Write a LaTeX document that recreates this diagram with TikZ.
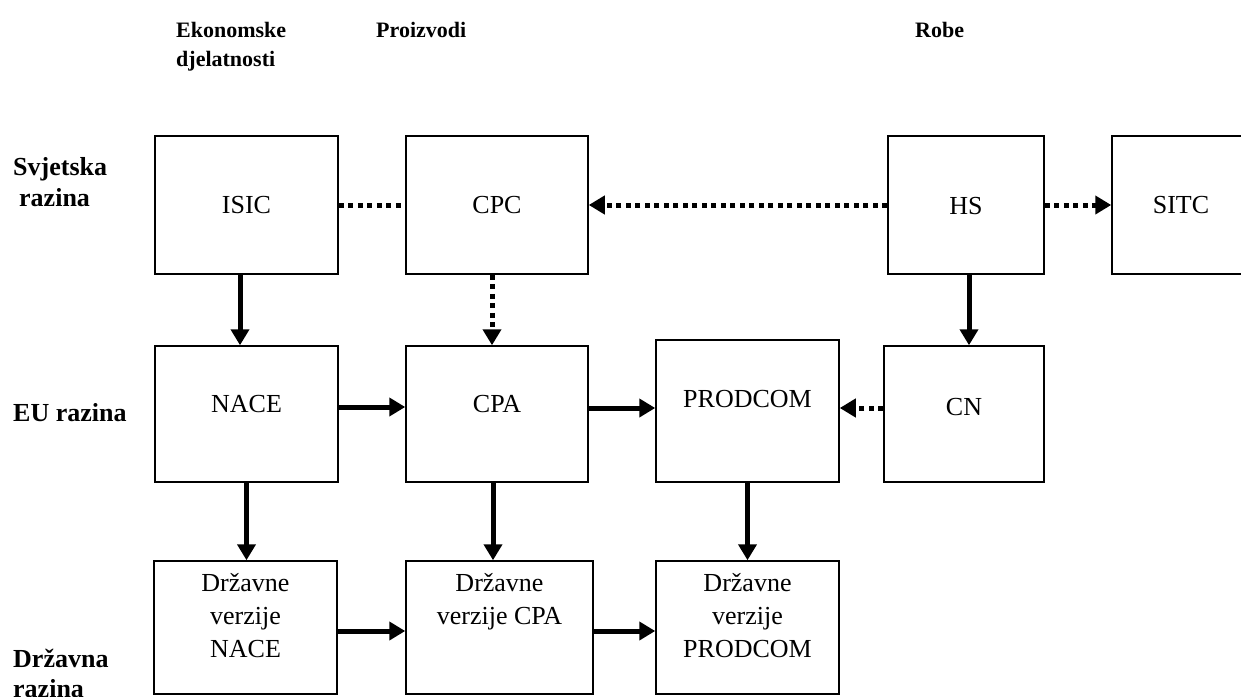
\documentclass[tikz,border=0pt]{standalone}
\usepackage{fontspec}
\setmainfont{Liberation Serif}
\usetikzlibrary{arrows.meta,calc}
\tikzset{
  box/.style={draw, line width=1.5pt, inner sep=0pt},
  boxtext/.style={inner sep=0pt, font=\fontsize{26}{33}\selectfont, align=center},
  head/.style={inner sep=0pt, font=\fontsize{22}{29}\selectfont\bfseries, align=left},
  side/.style={inner sep=0pt, font=\fontsize{26}{31}\selectfont\bfseries, align=left},
  solidarr/.style={line width=5pt, -{Triangle[length=16pt,width=18pt]}},
  dotarr/.style={line width=5pt, dash pattern=on 5pt off 4.5pt, -{Triangle[length=16pt,width=18pt]}},
  dotline/.style={line width=5pt, dash pattern=on 5pt off 4.5pt}
}
\begin{document}
\begin{tikzpicture}[x=1pt,y=-1pt]
\clip (0,0) rectangle (1241,696);
\fill[white] (0,0) rectangle (1241,696);
% headers
\node[head, anchor=north west] (h1) at (176,22) {Ekonomske\\djelatnosti};
\node[head, anchor=base west] (h2) at (376,37) {Proizvodi};
\node[head, anchor=base west] (h3) at (915,37) {Robe};
% side labels
\node[side, anchor=north west] (s1) at (13,157) {Svjetska\\\hspace*{6pt}razina};
\node[side, anchor=base west] (s2) at (13,421.5) {EU razina};
\node[side, anchor=north west, font=\fontsize{26}{30}\selectfont\bfseries] (s3) at (13,649) {Državna\\razina};
% row 1
\node[box, minimum width=183pt, minimum height=138pt] (isic) at (246.5,205) {};
\node[box, minimum width=182pt, minimum height=138pt] (cpc) at (497,205) {};
\node[box, minimum width=156pt, minimum height=138pt] (hs) at (966,205) {};
\node[box, minimum width=138pt, minimum height=138pt] (sitc) at (1181,205) {};
\node[boxtext, anchor=base] (isict) at (246.5,213) {ISIC};
\node[boxtext, anchor=base] (cpct) at (497,213) {CPC};
\node[boxtext, anchor=base] (hst) at (966,214) {HS};
\node[boxtext, anchor=base] (sitct) at (1181,213) {SITC};
% row 2
\node[box, minimum width=183pt, minimum height=136pt] (nace) at (246.5,414) {};
\node[box, minimum width=182pt, minimum height=136pt] (cpa) at (497,414) {};
\node[box, minimum width=183pt, minimum height=142pt] (prodcom) at (747.5,411) {};
\node[box, minimum width=160pt, minimum height=136pt] (cn) at (964,414) {};
\node[boxtext, anchor=base] (nacet) at (246.5,412) {NACE};
\node[boxtext, anchor=base] (cpat) at (497,412) {CPA};
\node[boxtext, anchor=base] (prodcomt) at (747.5,407) {PRODCOM};
\node[boxtext, anchor=base] (cnt) at (964,415) {CN};
% row 3
\node[box, minimum width=183pt, minimum height=133pt] (dnace) at (245.5,627.5) {};
\node[box, minimum width=187pt, minimum height=133pt] (dcpa) at (499.5,627.5) {};
\node[box, minimum width=183pt, minimum height=133pt] (dprod) at (747.5,627.5) {};
\node[boxtext, anchor=north] (dnacet) at (245.5,573.5) {Državne\\verzije\\NACE};
\node[boxtext, anchor=north] (dcpat) at (499.5,573.5) {Državne\\verzije CPA};
\node[boxtext, anchor=north] (dprodt) at (747.5,573.5) {Državne\\verzije\\PRODCOM};
% connectors row 1
\draw[dotline] (isic.east) -- (cpc.west);
\draw[dotarr] (hs.west) -- (cpc.east);
\draw[dotarr] (hs.east) -- (sitc.west);
% vertical row1 -> row2
\draw[solidarr] ([xshift=-6.5pt]isic.south) -- ([xshift=-6.5pt]nace.north);
\draw[dotarr] ([xshift=-5pt]cpc.south) -- ([xshift=-5pt]cpa.north);
\draw[solidarr] ([xshift=3pt]hs.south) -- ([xshift=3pt]hs.south |- cn.north);
% row 2 horizontal
\draw[solidarr] ([yshift=7pt]nace.east) -- ([yshift=7pt]cpa.west);
\draw[solidarr] ([yshift=6pt]cpa.east) -- ([yshift=6pt]cpa.east -| prodcom.west);
\draw[dotarr] ([yshift=6pt]cn.west) -- ([yshift=6pt]cn.west -| prodcom.east);
% vertical row2 -> row3
\draw[solidarr] (nace.south) -- (nace.south |- dnace.north);
\draw[solidarr] ([xshift=-4pt]cpa.south) -- ([xshift=-4pt]cpa.south |- dcpa.north);
\draw[solidarr] (prodcom.south) -- (prodcom.south |- dprod.north);
% row 3 horizontal
\draw[solidarr] ([yshift=-3.5pt]dnace.east) -- ([yshift=-3.5pt]dnace.east -| dcpa.west);
\draw[solidarr] ([yshift=-3.5pt]dcpa.east) -- ([yshift=-3.5pt]dcpa.east -| dprod.west);
\end{tikzpicture}
\end{document}
